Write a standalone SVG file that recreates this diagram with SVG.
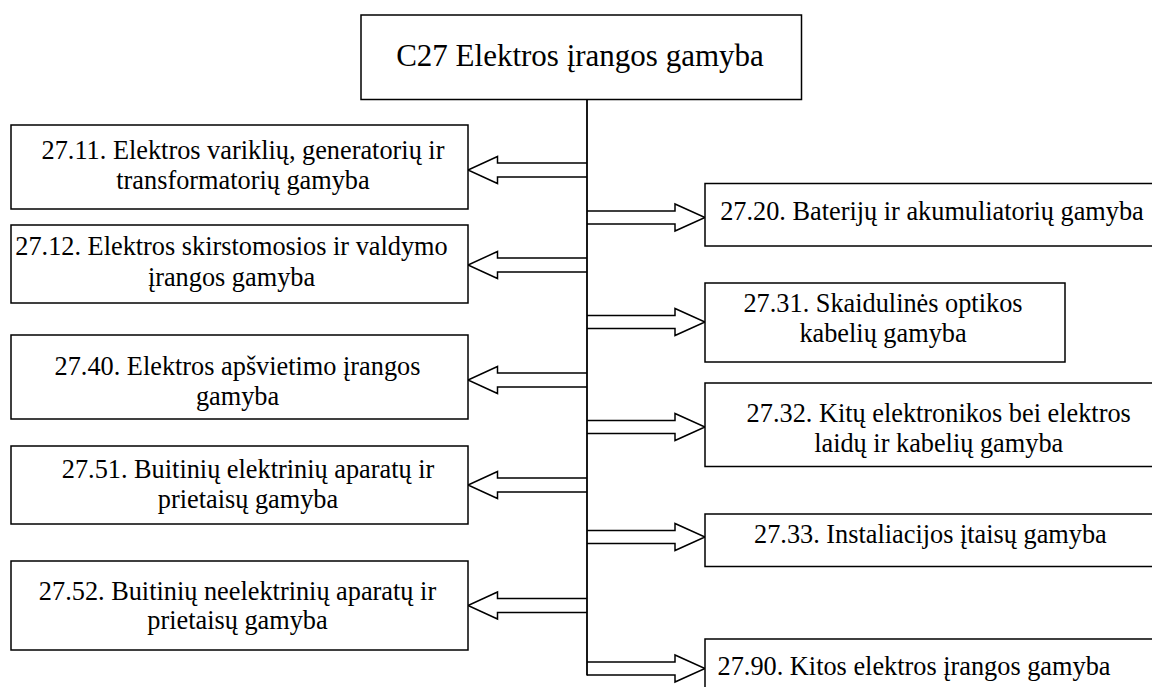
<svg xmlns="http://www.w3.org/2000/svg" width="1152" height="687" viewBox="0 0 1152 687" font-family="'Liberation Serif', 'Times New Roman', serif">
<style>
.box{fill:#fff;stroke:#000;stroke-width:1.5}
.arr{fill:#fff;stroke:#000;stroke-width:1.5;stroke-linejoin:miter}
.trunk{fill:none;stroke:#000;stroke-width:1.8}
text{font-family:'Liberation Serif', 'Times New Roman', serif;fill:#000;text-anchor:middle}
.t{font-size:26.3px}
.title{font-size:31px}
</style>
<rect width="1152" height="687" fill="#fff"/>
<g id="connectors">
<polyline class="arr" points="587,163 497.5,163 497.5,156.5 468,170 497.5,183.5 497.5,177 587,177"/>
<polyline class="arr" points="587,258 497.5,258 497.5,251.5 468,265 497.5,278.5 497.5,272 587,272"/>
<polyline class="arr" points="587,373 497.5,373 497.5,366.5 468,380 497.5,393.5 497.5,387 587,387"/>
<polyline class="arr" points="587,478 497.5,478 497.5,471.5 468,485 497.5,498.5 497.5,492 587,492"/>
<polyline class="arr" points="587,598.5 497.5,598.5 497.5,592 468,605.5 497.5,619 497.5,612.5 587,612.5"/>
<polyline class="arr" points="587,211 675,211 675,204 705,217.5 675,231 675,224 587,224"/>
<polyline class="arr" points="587,315.5 675,315.5 675,308.5 705,322 675,335.5 675,328.5 587,328.5"/>
<polyline class="arr" points="587,420.5 675,420.5 675,413.5 705,427 675,440.5 675,433.5 587,433.5"/>
<polyline class="arr" points="587,530.5 675,530.5 675,523.5 705,537 675,550.5 675,543.5 587,543.5"/>
<polyline class="arr" points="587,662 675,662 675,655 705,668.5 675,682 675,675 587,675"/>
<line class="trunk" x1="587" y1="99" x2="587" y2="675.5"/>
</g>
<g id="n-c27">
<rect class="box" x="361" y="15" width="440.5" height="84.5"/>
<text class="title" x="580" y="65.5">C27 Elektros įrangos gamyba</text>
</g>
<g id="n-2711">
<rect class="box" x="11" y="125" width="457" height="84"/>
<text class="t" x="243" y="158.5">27.11. Elektros variklių, generatorių ir</text>
<text class="t" x="243" y="189">transformatorių gamyba</text>
</g>
<g id="n-2712">
<rect class="box" x="11" y="225" width="457" height="78"/>
<text class="t" x="231.5" y="255">27.12. Elektros skirstomosios ir valdymo</text>
<text class="t" x="231.5" y="286">įrangos gamyba</text>
</g>
<g id="n-2740">
<rect class="box" x="11" y="335" width="457" height="84"/>
<text class="t" x="237.5" y="375">27.40. Elektros apšvietimo įrangos</text>
<text class="t" x="237.5" y="405">gamyba</text>
</g>
<g id="n-2751">
<rect class="box" x="11" y="446" width="457" height="78"/>
<text class="t" x="248" y="478">27.51. Buitinių elektrinių aparatų ir</text>
<text class="t" x="248" y="508">prietaisų gamyba</text>
</g>
<g id="n-2752">
<rect class="box" x="11" y="561" width="457" height="89"/>
<text class="t" x="237.5" y="600">27.52. Buitinių neelektrinių aparatų ir</text>
<text class="t" x="237.5" y="629">prietaisų gamyba</text>
</g>
<g id="n-2720">
<rect class="box" x="705" y="183.5" width="460" height="62.5"/>
<text class="t" x="932" y="220">27.20. Baterijų ir akumuliatorių gamyba</text>
</g>
<g id="n-2731">
<rect class="box" x="705" y="283" width="360" height="79"/>
<text class="t" x="883" y="312">27.31. Skaidulinės optikos</text>
<text class="t" x="883" y="342">kabelių gamyba</text>
</g>
<g id="n-2732">
<rect class="box" x="705" y="383" width="460" height="83.5"/>
<text class="t" x="938.7" y="421.5">27.32. Kitų elektronikos bei elektros</text>
<text class="t" x="938.7" y="451.5">laidų ir kabelių gamyba</text>
</g>
<g id="n-2733">
<rect class="box" x="705" y="514" width="460" height="52.5"/>
<text class="t" x="930.4" y="543">27.33. Instaliacijos įtaisų gamyba</text>
</g>
<g id="n-2790">
<rect class="box" x="705" y="639" width="460" height="70"/>
<text class="t" x="914" y="675">27.90. Kitos elektros įrangos gamyba</text>
</g>
</svg>
